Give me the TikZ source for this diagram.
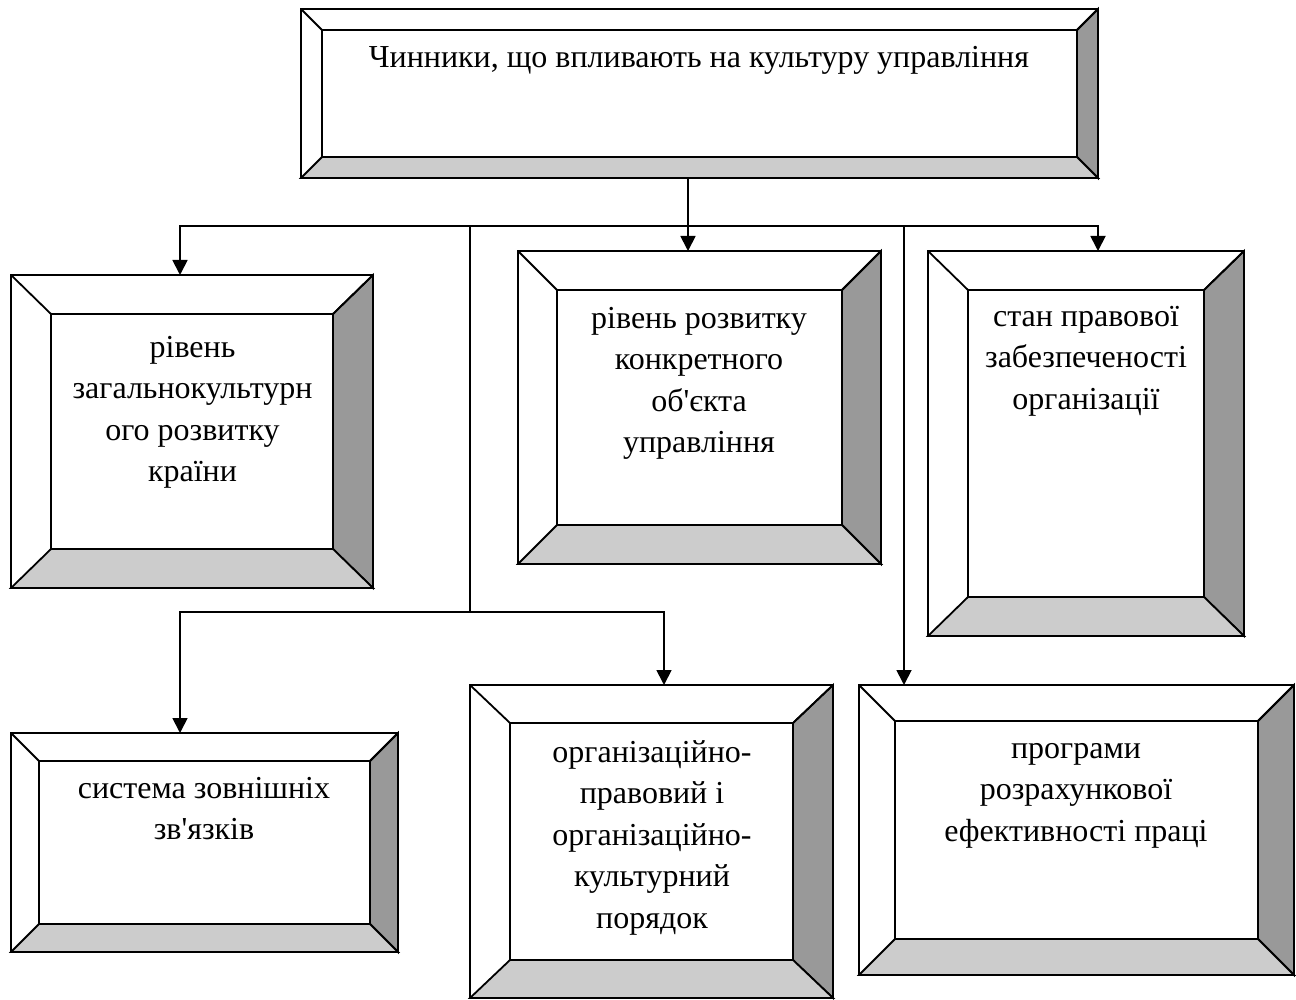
\documentclass[tikz,border=0pt]{standalone}
\usepackage{fontspec}
\setmainfont{Liberation Serif}
\usetikzlibrary{arrows.meta,fit}
\definecolor{bvdark}{HTML}{999999}
\definecolor{bvlight}{HTML}{CCCCCC}
\tikzset{
  conn/.style={line width=1.8pt},
  arr/.style={line width=1.8pt,-{Triangle[width=15pt,length=15pt]}},
  arrs/.style={line width=1.8pt,{Triangle[width=15pt,length=15pt]}-{Triangle[width=15pt,length=15pt]}},
  lbl/.style={anchor=base,align=center,inner sep=0pt,font=\fontsize{32}{41.5}\selectfont},
  bvline/.style={line width=1.8pt,line join=miter}
}
% #1 name, #2 x1, #3 y1, #4 x2, #5 y2, #6 horizontal bevel, #7 vertical bevel
\newcommand{\bevelbox}[7]{%
  \pgfmathsetmacro\bvAx{#2+#6}%
  \pgfmathsetmacro\bvBx{#4-#6}%
  \pgfmathsetmacro\bvAy{#3+#7}%
  \pgfmathsetmacro\bvBy{#5-#7}%
  \node[fit={(#2,#3) (#4,#5)},inner sep=0pt,outer sep=0pt] (#1) {};
  \fill[white] (#2,#3) rectangle (#4,#5);
  \filldraw[bvline,fill=bvdark] (#4,#3) -- (#4,#5) -- (\bvBx,\bvBy) -- (\bvBx,\bvAy) -- cycle;
  \filldraw[bvline,fill=bvlight] (#2,#5) -- (#4,#5) -- (\bvBx,\bvBy) -- (\bvAx,\bvBy) -- cycle;
  \draw[bvline] (#2,#3) -- (\bvAx,\bvAy);
  \draw[bvline] (#4,#3) -- (\bvBx,\bvAy);
  \draw[bvline] (\bvAx,\bvAy) rectangle (\bvBx,\bvBy);
  \draw[bvline] (#2,#3) rectangle (#4,#5);
}
\begin{document}
\begin{tikzpicture}[x=1pt,y=-1pt]
\useasboundingbox (0,0) rectangle (1296,1000);
\fill[white] (0,0) rectangle (1296,1000);

\bevelbox{top}{301}{9}{1098}{178}{21}{21}
\bevelbox{l1}{11}{275}{373}{588}{40}{39}
\bevelbox{m1}{518}{251}{881}{564}{39}{39}
\bevelbox{r1}{928}{251}{1244}{636}{40}{39}
\bevelbox{l2}{11}{733}{398}{952}{28}{28}
\bevelbox{m2}{470}{685}{833}{998}{40}{38}
\bevelbox{r2}{859}{685}{1294}{975}{36}{36}

% anchor=base is the baseline of the last line
\node[lbl] (ttop) at (699,68) {Чинники, що впливають на культуру управління};
\node[lbl] (tl1) at (192.5,481.5) {рівень\\загальнокультурн\\ого розвитку\\країни};
\node[lbl] (tm1) at (699,452.5) {рівень розвитку\\конкретного\\об\textquotesingle єкта\\управління};
\node[lbl] (tr1) at (1086,409) {стан правової\\забезпеченості\\організації};
\node[lbl] (tl2) at (204,839.5) {система зовнішніх\\зв\textquotesingle язків};
\node[lbl] (tm2) at (652,928) {організаційно-\\правовий і\\організаційно-\\культурний\\порядок};
\node[lbl] (tr2) at (1076,841) {програми\\розрахункової\\ефективності праці};

\coordinate (bA) at (180,226);
\coordinate (bB) at (1098,226);
\coordinate (xm) at (688,226);
\coordinate (bV1) at (470,226);
\coordinate (bV2) at (904,226);
\coordinate (cV1) at (470,612);
\coordinate (cA) at (180,612);
\coordinate (cB) at (664,612);

\draw[arrs] (l1.north -| bA) -- (bA) -- (bB) -- (r1.north -| bB);
\draw[arr] (top.south -| xm) -- (m1.north -| xm);
\draw[conn] (bV1) -- (cV1);
\draw[arrs] (l2.north -| cA) -- (cA) -- (cB) -- (m2.north -| cB);
\draw[arr] (bV2) -- (r2.north -| bV2);
\end{tikzpicture}
\end{document}
